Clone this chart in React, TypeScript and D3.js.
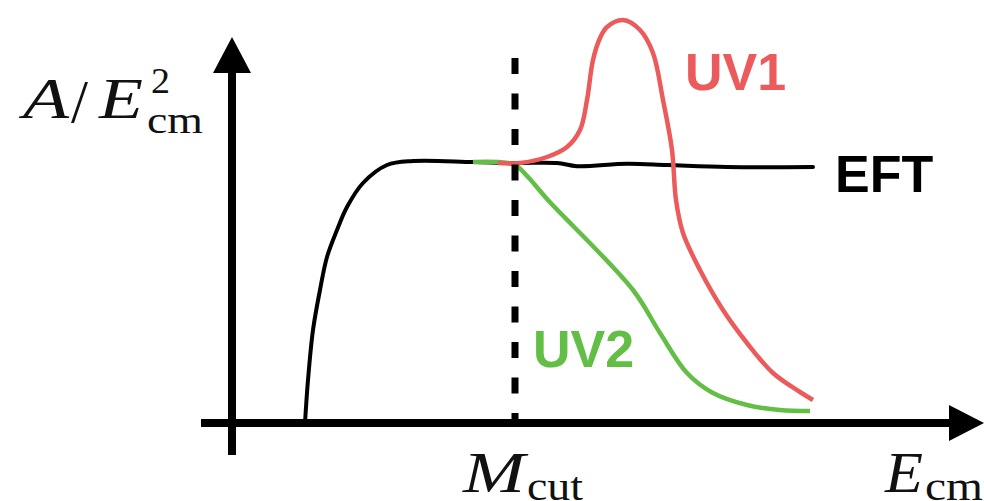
import React, { useEffect, useRef } from 'react';
import * as d3 from 'd3';

// Energy (arbitrary units) and amplitude (arbitrary units)
const eftEnergy = [14.6, 15.2, 16.2, 17.6, 19, 21, 23, 26.2, 31, 36.2, 48.2, 56.6, 65, 69, 79, 87, 99, 116.2];
const eftAmp = [0, 10.75, 23.25, 33.25, 41.5, 48.25, 54, 60, 64.5, 65.5, 65.25, 65, 65, 64.2, 64.8, 64.5, 64, 64];

const uv2Energy = [48.2, 53.2, 56.6, 59.2, 63, 80.2, 85.6, 91, 96.2, 103, 109.6, 115.6];
const uv2Amp = [65.25, 65.25, 64.5, 61.5, 56, 33.25, 22.5, 12.5, 7.5, 4.5, 3.25, 3];

const uv1Energy = [53.2, 57.6, 63, 67, 69.6, 71, 72.2, 73.6, 75, 78.2, 81.6, 84.2, 86.2, 88, 88.8, 90.2, 93.6, 98.2, 103, 108.2, 113.6, 116.2];
const uv1Amp = [65, 65, 66.5, 69, 73.25, 80.75, 90.75, 96.25, 99, 100.75, 98.25, 92.5, 80.75, 68.25, 55.75, 47.5, 38.25, 28.25, 20, 12.5, 7.75, 5.75];

const mCut = 56.6;  // position of the cutoff on the energy axis

const RED = '#ec5b5b';
const GREEN = '#63be46';

const App = () => {
  const chartRef = useRef<SVGSVGElement | null>(null);

  useEffect(() => {
    const width = 984;
    const height = 501;

    const svg = d3.select(chartRef.current)
      .attr('width', width)
      .attr('height', height);
    svg.selectAll('*').remove();

    // scales: origin of the axes at (232, 423)
    const x = d3.scaleLinear().domain([0, 150]).range([232, 982]);
    const y = d3.scaleLinear().domain([0, 100]).range([423, 23]);

    const line = d3.line<[number, number]>()
      .x(d => x(d[0]))
      .y(d => y(d[1]))
      .curve(d3.curveCatmullRom.alpha(0.5));

    const zip = (a: number[], b: number[]) => a.map((v, i) => [v, b[i]] as [number, number]);

    // axes
    svg.append('line')
      .attr('x1', x(0)).attr('x2', x(0))
      .attr('y1', y(-8)).attr('y2', y(88))
      .attr('stroke', 'black').attr('stroke-width', 8);
    svg.append('path')
      .attr('d', `M${x(0) - 19},${y(87.5)} L${x(0) + 19},${y(87.5)} L${x(0)},${y(96.5)} Z`)
      .attr('fill', 'black');

    svg.append('line')
      .attr('x1', x(-6.2)).attr('x2', x(143.8))
      .attr('y1', y(0)).attr('y2', y(0))
      .attr('stroke', 'black').attr('stroke-width', 8);
    svg.append('path')
      .attr('d', `M${x(143.4)},${y(0) - 18} L${x(143.4)},${y(0) + 18} L${x(150.4)},${y(0)} Z`)
      .attr('fill', 'black');

    // curves
    svg.append('path')
      .attr('d', line(zip(eftEnergy, eftAmp)))
      .attr('fill', 'none').attr('stroke', 'black').attr('stroke-width', 4)
      .attr('stroke-linecap', 'round');
    svg.append('path')
      .attr('d', line(zip(uv2Energy, uv2Amp)))
      .attr('fill', 'none').attr('stroke', GREEN).attr('stroke-width', 4.5);
    svg.append('path')
      .attr('d', line(zip(uv1Energy, uv1Amp)))
      .attr('fill', 'none').attr('stroke', RED).attr('stroke-width', 4.5);

    // dashed cutoff line
    svg.append('line')
      .attr('x1', x(mCut)).attr('x2', x(mCut))
      .attr('y1', y(91.25)).attr('y2', y(0))
      .attr('stroke', 'black').attr('stroke-width', 7)
      .attr('stroke-dasharray', '16 19.5');

    // curve labels
    const sans = "'Liberation Sans', Arial, sans-serif";
    const labels = [
      { text: 'UV1', x: 685, y: 90, color: RED },
      { text: 'UV2', x: 533, y: 367, color: GREEN },
      { text: 'EFT', x: 835, y: 192, color: 'black' },
    ];
    svg.selectAll('.curve-label')
      .data(labels)
      .enter()
      .append('text')
      .attr('class', 'curve-label')
      .attr('x', d => d.x).attr('y', d => d.y)
      .attr('fill', d => d.color)
      .attr('font-family', sans).attr('font-weight', 'bold').attr('font-size', 52)
      .text(d => d.text);

    // math labels, each piece stretched to the width it has in the sketch
    const serif = "'Liberation Serif', 'Times New Roman', serif";
    const math = [
      { text: 'A', x: 23, y: 118, size: 56, italic: true, len: 46 },
      { text: '/', x: 71, y: 122, size: 62, italic: false, len: 17 },
      { text: 'E', x: 99, y: 118, size: 56, italic: true, len: 44 },
      { text: '2', x: 151, y: 93, size: 36, italic: false, len: 19 },
      { text: 'cm', x: 147, y: 133, size: 38, italic: false, len: 56 },
      { text: 'M', x: 463, y: 492, size: 58, italic: true, len: 62 },
      { text: 'cut', x: 527, y: 500, size: 40, italic: false, len: 56 },
      { text: 'E', x: 885, y: 492, size: 58, italic: true, len: 38 },
      { text: 'cm', x: 925, y: 500, size: 40, italic: false, len: 58 },
    ];
    svg.selectAll('.math-label')
      .data(math)
      .enter()
      .append('text')
      .attr('class', 'math-label')
      .attr('x', d => d.x).attr('y', d => d.y)
      .attr('font-family', serif)
      .attr('font-size', d => d.size)
      .attr('font-style', d => (d.italic ? 'italic' : 'normal'))
      .attr('textLength', d => d.len)
      .attr('lengthAdjust', 'spacingAndGlyphs')
      .attr('fill', '#111')
      .text(d => d.text);
  }, []);

  return (
    <svg ref={chartRef} style={{ position: 'absolute', left: 0, top: 0, background: 'white' }}></svg>
  );
};

export default App;
